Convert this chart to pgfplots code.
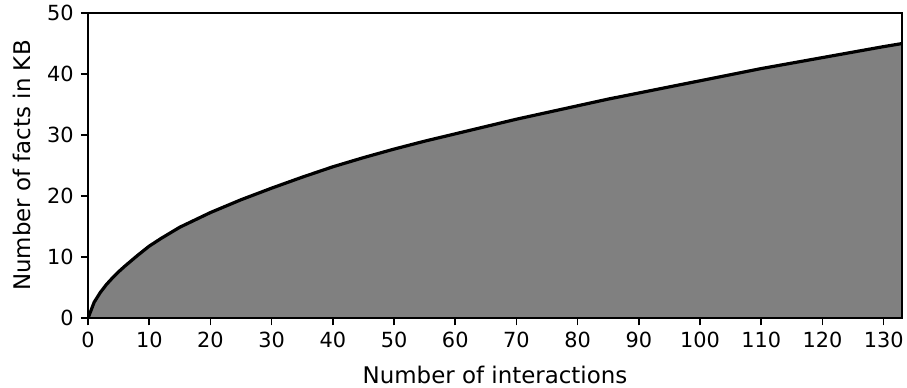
\documentclass[border=0pt]{standalone}
\usepackage{pgfplots}
\usepackage{pgfplotstable}
\pgfplotsset{compat=1.18}
\usepackage{fontspec}
\setmainfont{DejaVu Sans}
\pgfplotstableread{
x y
0 0
1 2.6
2 4.2
3 5.5
4 6.6
5 7.6
6 8.5
8 10.2
10 11.8
12 13.1
15 14.9
20 17.3
25 19.4
30 21.3
35 23.1
40 24.8
45 26.3
50 27.7
55 29.0
60 30.2
65 31.4
70 32.6
75 33.7
80 34.8
85 35.9
90 36.9
95 37.9
100 38.9
105 39.9
110 40.9
115 41.8
120 42.7
125 43.6
130 44.5
133 45.0
}\facts
\begin{document}
\fontsize{15bp}{18bp}\selectfont
\begin{tikzpicture}
\begin{axis}[
  scale only axis,
  width=586bp, height=219.6bp,
  xmin=0, xmax=133, ymin=0, ymax=50,
  xtick={0,10,...,130}, ytick={0,10,...,50},
  xtick pos=bottom, ytick pos=left,
  tick align=outside,
  major tick length=5.2bp,
  every tick/.style={black, line width=1.15bp},
  axis line style={line width=1.15bp},
  /pgf/number format/assume math mode=true,
  ticklabel style={font=\fontsize{15bp}{18bp}\selectfont},
  label style={font=\fontsize{16.5bp}{19bp}\selectfont},
  xlabel={Number of interactions},
  ylabel={Number of facts in KB},
  x label style={at={(axis description cs:0.5,-0.187)}, anchor=center},
  y label style={at={(axis description cs:-0.081,0.5)}, anchor=center, rotate=0},
  axis on top,
]
\addplot[fill={rgb,255:red,128;green,128;blue,128}, draw=none] table[x=x,y=y] {\facts} \closedcycle;
\addplot[black, line width=2.3bp] table[x=x,y=y] {\facts};
\coordinate (sw) at (rel axis cs:0,0);
\coordinate (ne) at (rel axis cs:1,1);
\end{axis}
\pgfresetboundingbox
\path ([shift={(-63.4bp,-49.7bp)}]sw) rectangle ([shift={(3.6bp,9.4bp)}]ne);
\end{tikzpicture}
\end{document}
